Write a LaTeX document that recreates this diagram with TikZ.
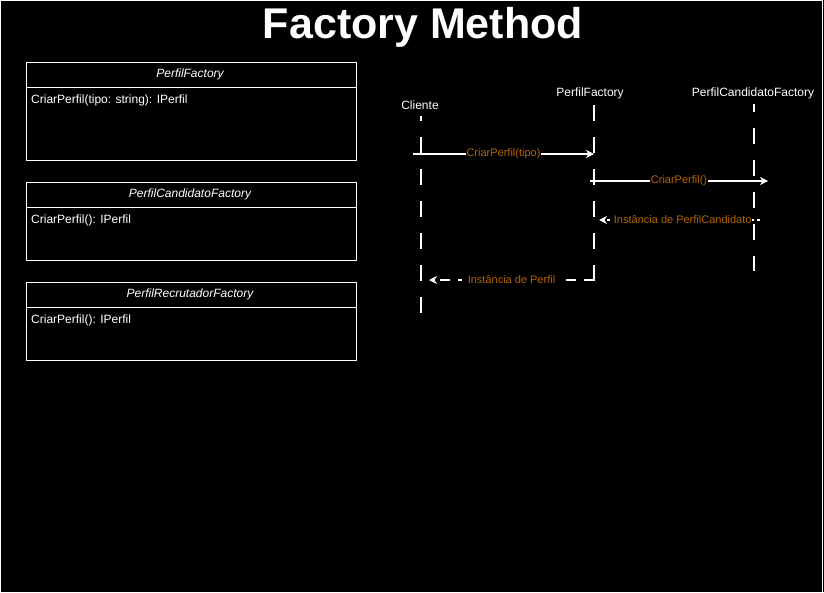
\documentclass[tikz,border=0pt]{standalone}
\usepackage{fontspec}
\setmainfont{Liberation Sans}
\usetikzlibrary{arrows.meta}
\definecolor{lbl}{RGB}{180,100,0}
\tikzset{
  txt/.style={text=white,inner sep=0pt,font=\fontsize{12}{14}\selectfont},
  hdr/.style={text=white,inner sep=0pt,font=\fontsize{12}{14}\selectfont\itshape},
  classbox/.style={draw=white,line width=0.8pt,minimum width=330pt,minimum height=98pt,inner sep=0pt},
  classbox2/.style={draw=white,line width=0.8pt,minimum width=330pt,minimum height=78pt,inner sep=0pt},
  lifeline/.style={white,line width=1.8pt,dash pattern=on 16pt off 16pt},
  msg/.style={white,line width=1.2pt,-{Stealth[length=8pt,width=8pt,inset=2.5pt]}},
  ret/.style={white,line width=1.2pt,dash pattern=on 10pt off 8pt,-{Stealth[length=8pt,width=8pt,inset=2.5pt]}},
  ret2/.style={white,line width=1.2pt,dash pattern=on 3pt off 3pt,-{Stealth[length=8pt,width=8pt,inset=2.5pt]}},
  mlabel/.style={text=lbl,fill=black,inner sep=0.7pt,font=\fontsize{11}{13}\selectfont}
}
\begin{document}
\begin{tikzpicture}[x=1pt,y=-1pt]
\useasboundingbox (0,0) rectangle (824,592);
\fill[black] (0,0) rectangle (824,592);
\draw[white,line width=1pt] (0.5,0.5) rectangle (822.5,592.5);

\node[text=white,inner sep=0pt,font=\fontsize{43}{48}\selectfont\bfseries] (title) at (423,27) {Factory Method};

% class boxes
\node[classbox,anchor=north west] (b1) at (25.5,61.5) {};
\draw[white,line width=0.8pt] ([yshift=-26pt]b1.north west) coordinate (b1l) -- ([yshift=-26pt]b1.north east) coordinate (b1r);
\node[hdr] (b1h) at (190,74) {PerfilFactory};
\node[txt,anchor=west] (b1t) at (31,100) {CriarPerfil(tipo: string): IPerfil};

\node[classbox2,anchor=north west] (b2) at (25.5,181.5) {};
\draw[white,line width=0.8pt] ([yshift=-26pt]b2.north west) coordinate (b2l) -- ([yshift=-26pt]b2.north east) coordinate (b2r);
\node[hdr] (b2h) at (190,194) {PerfilCandidatoFactory};
\node[txt,anchor=west] (b2t) at (31,220) {CriarPerfil(): IPerfil};

\node[classbox2,anchor=north west] (b3) at (25.5,281.5) {};
\draw[white,line width=0.8pt] ([yshift=-26pt]b3.north west) coordinate (b3l) -- ([yshift=-26pt]b3.north east) coordinate (b3r);
\node[hdr] (b3h) at (190,294) {PerfilRecrutadorFactory};
\node[txt,anchor=west] (b3t) at (31,320) {CriarPerfil(): IPerfil};

% lifeline heads
\node[txt] (cli) at (420,105) {Cliente};
\node[txt] (pf) at (590,93) {PerfilFactory};
\node[txt] (pcf) at (753,93) {PerfilCandidatoFactory};

\coordinate (cliA) at (421,116); \coordinate (cliB) at (421,313);
\coordinate (pfA) at (594,105);  \coordinate (pfB) at (594,281);
\coordinate (pcfA) at (754,104); \coordinate (pcfB) at (754,271);
\draw[lifeline,dash phase=11pt] (cliA) -- (cliB);
\draw[lifeline] (pfA) -- (pfB);
\draw[lifeline,dash phase=8pt] (pcfA) -- (pcfB);

% messages
\coordinate (m1a) at (413,154); \coordinate (m1b) at (594,154);
\draw[msg] (m1a) -- node[mlabel] {CriarPerfil(tipo)} (m1b);
\coordinate (m2a) at (590,181); \coordinate (m2b) at (768,181);
\draw[msg] (m2a) -- node[mlabel] {CriarPerfil()} (m2b);
\coordinate (m3a) at (760,220); \coordinate (m3b) at (599,220);
\draw[ret2] (m3a) -- node[mlabel,pos=0.48] {Instância de PerfilCandidato} (m3b);
\coordinate (m4a) at (594,280); \coordinate (m4b) at (429,280);
\draw[ret,dash phase=0pt] (m4a) -- node[mlabel,pos=0.5,inner xsep=6pt] {Instância de Perfil} (m4b);
\end{tikzpicture}
\end{document}
